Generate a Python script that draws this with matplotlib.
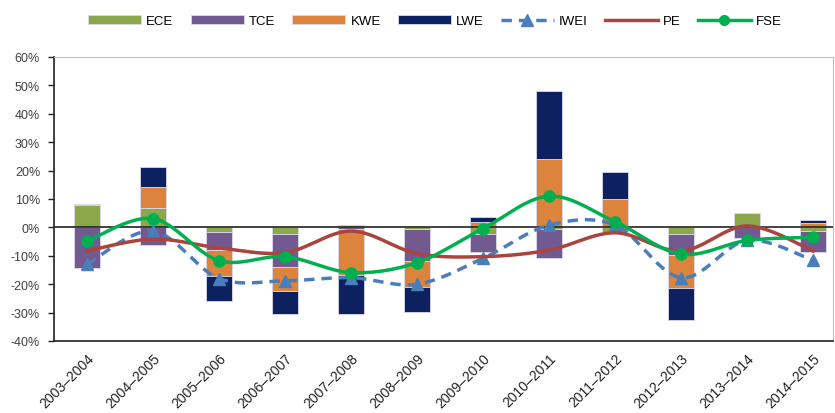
import numpy as np
import matplotlib
matplotlib.use("Agg")
import matplotlib.pyplot as plt
from matplotlib.ticker import FuncFormatter

plt.rcParams['font.family'] = ['Liberation Sans Narrow', 'Liberation Sans', 'DejaVu Sans']

# Data (percent)
periods = ['2003–2004', '2004–2005', '2005–2006', '2006–2007', '2007–2008', '2008–2009',
           '2009–2010', '2010–2011', '2011–2012', '2012–2013', '2013–2014', '2014–2015']
ece = [7.8, 7.0, -1.6, -2.3, 1.0, -0.4, -2.3, -0.7, -1.5, -2.3, 4.9, -1.3]
tce = [-14.4, -6.2, -6.4, -11.8, -0.5, -11.5, -6.3, -10.0, 0.0, -7.4, -3.7, -7.5]
kwe = [0.4, 7.2, -9.1, -8.2, -16.3, -9.1, 2.0, 24.0, 9.9, -11.5, 0.0, 1.5]
lwe = [0.0, 7.2, -8.7, -8.2, -13.7, -8.8, 1.6, 24.1, 9.7, -11.4, 0.0, 1.1]
iwei = [-13.0, -1.3, -18.0, -18.8, -17.7, -20.0, -10.9, 0.8, 0.8, -17.7, -4.6, -11.6]
pe = [-8.3, -4.1, -7.2, -8.9, -1.3, -9.2, -10.3, -8.0, -1.9, -8.3, 0.5, -8.3]
fse = [-4.8, 3.1, -11.7, -10.3, -15.9, -12.4, -0.4, 11.0, 2.0, -9.4, -4.6, -3.5]

bar_series = [('ECE', ece, '#8BA84A'), ('TCE', tce, '#72598F'),
              ('KWE', kwe, '#DC843C'), ('LWE', lwe, '#0D2160')]


def smooth(xs, ys, n=30):
    # Excel-like smoothed line (cubic Bezier with 1/6 tangents)
    p = np.column_stack([xs, ys]).astype(float)
    ext = np.vstack([p[0], p, p[-1]])
    out = []
    t = np.linspace(0, 1, n)[:, None]
    for i in range(len(p) - 1):
        p0, p3 = ext[i + 1], ext[i + 2]
        c1 = p0 + (ext[i + 2] - ext[i]) / 6.0
        c2 = p3 - (ext[i + 3] - ext[i + 1]) / 6.0
        seg = ((1 - t) ** 3) * p0 + 3 * ((1 - t) ** 2) * t * c1 + 3 * (1 - t) * t ** 2 * c2 + t ** 3 * p3
        out.append(seg if i == 0 else seg[1:])
    out = np.vstack(out)
    return out[:, 0], out[:, 1]


fig = plt.figure(figsize=(8.35, 4.14), dpi=100)
ax = fig.add_axes([54 / 835, 72 / 414, 779 / 835, 284 / 414])

x = np.arange(len(periods))
pos_base = np.zeros(len(x))
neg_base = np.zeros(len(x))
handles = []
for name, vals, color in bar_series:
    v = np.array(vals)
    base = np.where(v >= 0, pos_base, neg_base)
    b = ax.bar(x, v, width=0.4, bottom=base, color=color, edgecolor='#DADAEA',
               linewidth=0.6, label=name, zorder=2)
    handles.append(b)
    pos_base = pos_base + np.where(v >= 0, v, 0)
    neg_base = neg_base + np.where(v < 0, v, 0)

ax.axhline(0, color='#222222', linewidth=1.2, zorder=3)

sx, sy = smooth(x, iwei)
ax.plot(sx, sy, color='#4A7EBB', linewidth=2.5, linestyle=(0, (3, 2)), zorder=4)
ax.plot(x, iwei, linestyle='none', marker='^', markersize=8, color='#4A7EBB', zorder=4)
h_iwei, = ax.plot([], [], color='#4A7EBB', linewidth=2.5, linestyle=(0, (3, 2)),
                  marker='^', markersize=8, label='IWEI')

sx, sy = smooth(x, pe)
h_pe, = ax.plot(sx, sy, color='#A9443F', linewidth=2.5, zorder=5, label='PE')

sx, sy = smooth(x, fse)
ax.plot(sx, sy, color='#00B050', linewidth=2.5, zorder=6)
ax.plot(x, fse, linestyle='none', marker='o', markersize=8, color='#00B050', zorder=6)
h_fse, = ax.plot([], [], color='#00B050', linewidth=2.5, marker='o', markersize=7, label='FSE')

ax.set_xlim(-0.5, 11.3)
ax.set_ylim(-40, 60)
ax.set_yticks(np.arange(-40, 61, 10))
ax.yaxis.set_major_formatter(FuncFormatter(lambda v, _: f'{v:.0f}%'))
ax.tick_params(axis='y', direction='out', length=4, width=1, colors='#222222',
               labelsize=9, labelcolor='#404040', pad=6)
ax.set_xticks(x)
ax.set_xticklabels(periods, rotation=45, ha='right', rotation_mode='anchor',
                   fontsize=10, color='#222222')
ax.tick_params(axis='x', length=0, pad=7)

for side in ['top', 'right']:
    ax.spines[side].set_color('#BFBFBF')
ax.spines['left'].set_color('#222222')
ax.spines['left'].set_linewidth(1.2)
ax.spines['bottom'].set_color('#222222')
ax.spines['bottom'].set_linewidth(1.2)

fig.legend(handles=handles + [h_iwei, h_pe, h_fse], loc='center', ncol=7,
           bbox_to_anchor=(435 / 835, 1 - 22 / 414), frameon=False, fontsize=9.5,
           handlelength=4.0, handleheight=0.6, handletextpad=0.4, columnspacing=1.3)

fig.savefig('out.png', dpi=100)
